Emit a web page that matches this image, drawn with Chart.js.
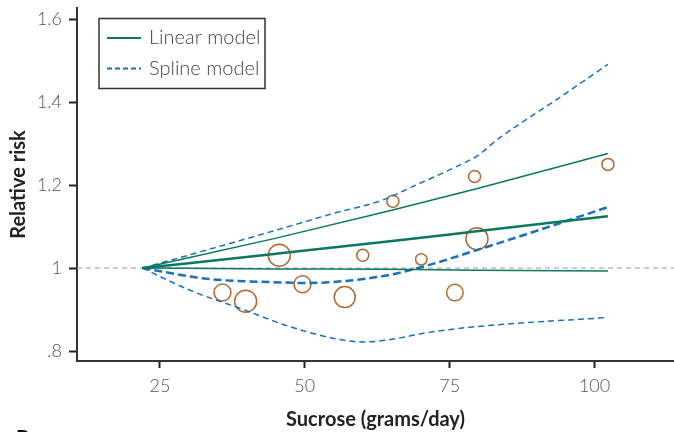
<!DOCTYPE html>
<html>
<head>
<meta charset="utf-8">
<script src="https://cdn.jsdelivr.net/npm/chart.js@4/dist/chart.umd.min.js"></script>
<style>
  html, body { margin: 0; padding: 0; background: #fff; }
  #wrap { position: relative; width: 674px; height: 432px; overflow: hidden; }
  #panelLetter { position: absolute; left: 16px; top: 427px; font: bold 20px Lato, sans-serif; color: #111; line-height: 20px; }
</style>
</head>
<body>
<div id="wrap">
  <canvas id="chart" width="674" height="432"></canvas>
  <div id="panelLetter">B</div>
</div>
<script>
// axis ranges and ticks
const xMin = 10.7;
const xMax = 113.7;
const yMin = 0.776;
const yMax = 1.627;
const xTicks = [25, 50, 75, 100];
const yTicks = [0.8, 1.0, 1.2, 1.4, 1.6];
const yTickLabels = ['.8', '1', '1.2', '1.4', '1.6'];

// linear model (estimate + 95% CI)
const linearX = [22, 44.7, 64.3, 79.3, 102.3];
const linearMid = [1.0, 1.034, 1.064, 1.088, 1.125];
const linearUpper = [1.0, 1.071, 1.137, 1.19, 1.276];
const linearLower = [1.0, 0.998, 0.997, 0.995, 0.993];

// spline model (estimate + 95% CI)
const splineX = [22, 33.2, 44.7, 50.5, 56.3, 63.2, 69, 80.5, 92, 102.3];
const splineMid = [1.0, 0.974, 0.966, 0.964, 0.968, 0.98, 0.998, 1.047, 1.099, 1.147];
const splineUpperX = [22, 33.2, 44.7, 55, 63.2, 69, 74.7, 79.9, 83.4, 88, 93.2, 97.8, 102.3];
const splineUpper = [1.0, 1.044, 1.09, 1.132, 1.163, 1.199, 1.235, 1.272, 1.312, 1.356, 1.404, 1.448, 1.491];
const splineLowerX = [22, 30.3, 39, 47.6, 56.3, 60, 64, 71.8, 80.5, 102.3];
const splineLower = [1.0, 0.946, 0.902, 0.858, 0.827, 0.822, 0.826, 0.846, 0.86, 0.881];

// individual study estimates
const studyX = [35.8, 39.8, 45.6, 49.6, 56.9, 60.0, 65.2, 70.1, 75.9, 79.7, 79.3, 102.3];
const studyRR = [0.941, 0.92, 1.031, 0.961, 0.93, 1.031, 1.161, 1.021, 0.941, 1.071, 1.221, 1.25];
const studyWeight = [8.5, 11, 11, 8.5, 10.5, 6, 6, 5.7, 8.3, 11, 6, 6];

const legendLabels = ['Linear model', 'Spline model'];

const GREEN = '#0b7761';
const BLUE = '#1871bd';
const BROWN = '#b06a33';
const FONT = 'Lato, "Open Sans", sans-serif';

function pts(xs, ys) {
  return xs.map((x, i) => ({ x: x, y: ys[i] }));
}

function lineSet(data, color, width, dash) {
  return {
    data: data,
    showLine: true,
    borderColor: color,
    borderWidth: width,
    borderDash: dash,
    pointRadius: 0,
    fill: false,
    cubicInterpolationMode: 'monotone'
  };
}

// legend box drawn inside the plot area
const boxLegend = {
  id: 'boxLegend',
  afterDraw(chart) {
    const ctx = chart.ctx;
    const a = chart.chartArea;
    const left = a.left + 22, top = a.top + 10.5;
    ctx.save();
    ctx.strokeStyle = '#333';
    ctx.lineWidth = 1.5;
    ctx.strokeRect(left, top, 166, 70);
    const styles = [
      { color: GREEN, dash: [] },
      { color: BLUE, dash: [5, 3] }
    ];
    ctx.font = '300 20px ' + FONT;
    ctx.textBaseline = 'middle';
    legendLabels.forEach((label, i) => {
      const y = top + 19.5 + i * 30.5;
      ctx.strokeStyle = styles[i].color;
      ctx.lineWidth = 2;
      ctx.setLineDash(styles[i].dash);
      ctx.beginPath();
      ctx.moveTo(left + 8, y);
      ctx.lineTo(left + 42, y);
      ctx.stroke();
      ctx.setLineDash([]);
      ctx.fillStyle = '#444';
      ctx.fillText(label, left + 50, y);
    });
    ctx.restore();
  }
};

new Chart(document.getElementById('chart'), {
  type: 'scatter',
  data: {
    datasets: [
      lineSet(pts(linearX, linearMid), GREEN, 2.5, []),
      lineSet(pts(linearX, linearUpper), GREEN, 1.5, []),
      lineSet(pts(linearX, linearLower), GREEN, 1.5, []),
      lineSet(pts(splineX, splineMid), BLUE, 2.5, [8, 4]),
      lineSet(pts(splineUpperX, splineUpper), BLUE, 1.5, [6, 4]),
      lineSet(pts(splineLowerX, splineLower), BLUE, 1.5, [6, 4]),
      {
        data: pts(studyX, studyRR),
        pointRadius: studyWeight,
        pointBackgroundColor: 'rgba(0,0,0,0)',
        pointBorderColor: BROWN,
        pointBorderWidth: 1.5
      },
      lineSet([{ x: xMin, y: 1 }, { x: xMax, y: 1 }], '#999', 1, [5, 4])
    ]
  },
  options: {
    responsive: false,
    animation: false,
    layout: { autoPadding: false, padding: { top: 8, left: 0, right: 0, bottom: 0 } },
    plugins: { legend: { display: false }, tooltip: { enabled: false } },
    scales: {
      x: {
        type: 'linear',
        min: xMin,
        max: xMax,
        afterBuildTicks: s => { s.ticks = xTicks.map(v => ({ value: v })); },
        afterFit: s => { s.height = 71; s.paddingLeft = 0; s.paddingRight = 0; },
        grid: { drawOnChartArea: false, drawTicks: true, tickLength: 7, tickWidth: 2, tickColor: '#222' },
        border: { display: true, color: '#333', width: 2 },
        ticks: { color: '#555', padding: 7, font: { family: FONT, size: 18, weight: '300' } },
        title: {
          display: true,
          text: 'Sucrose (grams/day)',
          color: '#222',
          padding: { top: 0, bottom: 0 },
          font: { family: FONT, size: 20, weight: 'bold' }
        }
      },
      y: {
        type: 'linear',
        min: yMin,
        max: yMax,
        afterBuildTicks: s => { s.ticks = yTicks.map(v => ({ value: v })); },
        afterFit: s => { s.width = 77; s.paddingTop = 0; s.paddingBottom = 0; },
        grid: { drawOnChartArea: false, drawTicks: true, tickLength: 8, tickWidth: 2, tickColor: '#222' },
        border: { display: true, color: '#333', width: 2 },
        ticks: {
          color: '#555',
          padding: 7,
          font: { family: FONT, size: 18, weight: '300' },
          callback: (v, i) => yTickLabels[i]
        },
        title: {
          display: true,
          text: 'Relative risk',
          color: '#222',
          padding: { top: 7, bottom: 0 },
          font: { family: FONT, size: 20, weight: 'bold' }
        }
      }
    }
  },
  plugins: [boxLegend]
});
</script>
</body>
</html>
